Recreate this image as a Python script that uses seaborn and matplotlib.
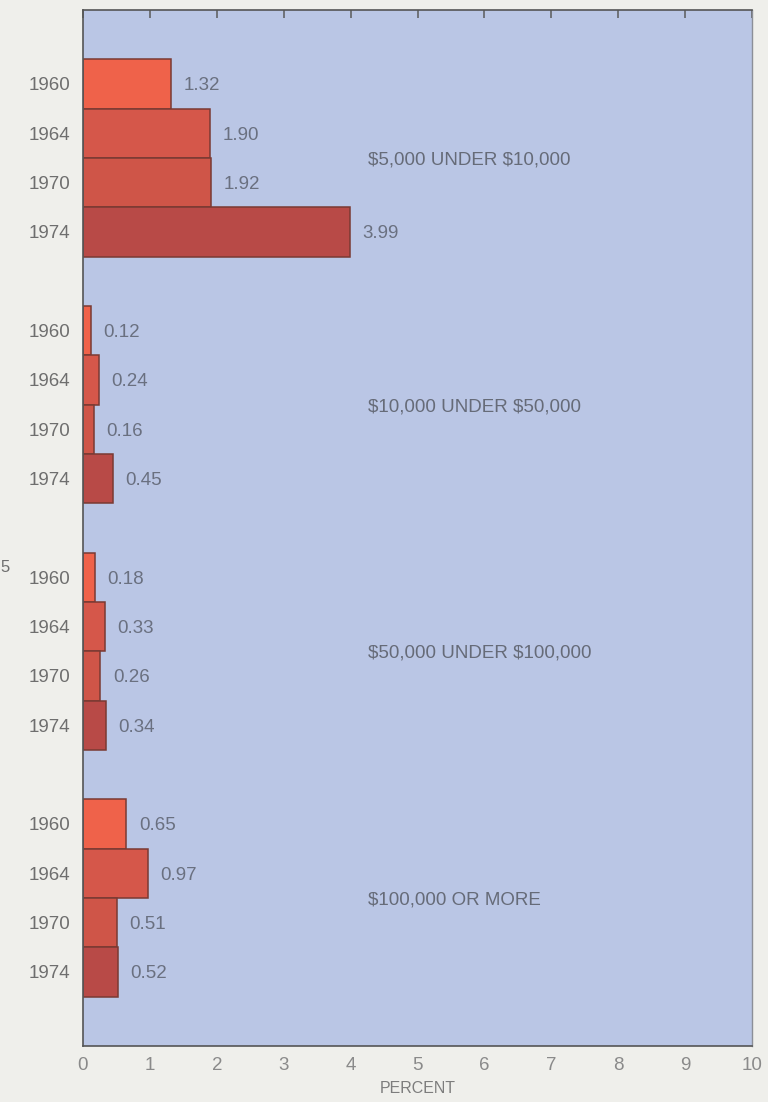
import numpy as np
import pandas as pd
import matplotlib
matplotlib.use("Agg")
import matplotlib.pyplot as plt
import seaborn as sns

# Share of returns by income class, per year
years = ["1960", "1964", "1970", "1974"]
income_classes = ["$5,000 UNDER $10,000", "$10,000 UNDER $50,000",
                  "$50,000 UNDER $100,000", "$100,000 OR MORE"]
pct_5k_10k = [1.32, 1.90, 1.92, 3.99]
pct_10k_50k = [0.12, 0.24, 0.16, 0.45]
pct_50k_100k = [0.18, 0.33, 0.26, 0.34]
pct_100k_up = [0.65, 0.97, 0.51, 0.52]
x_ticks = list(range(0, 11))

year_colors = {"1960": "#ef624a", "1964": "#d5574a", "1970": "#cf5548", "1974": "#b84a47"}

series = [pct_5k_10k, pct_10k_50k, pct_50k_100k, pct_100k_up]
rows = []
for g, (cls, vals) in enumerate(zip(income_classes, series)):
    for i, (yr, v) in enumerate(zip(years, vals)):
        rows.append({"income": cls, "year": yr, "percent": v,
                     "slot": 1.5 + g * 5 + i})
df = pd.DataFrame(rows)

sns.set_theme(style="white")
plt.rcParams["font.family"] = ["Liberation Sans", "DejaVu Sans"]
plt.rcParams["text.parse_math"] = False

fig = plt.figure(figsize=(7.68, 11.02), dpi=100, facecolor="#efefeb")
ax = fig.add_axes([83 / 768, 1 - 1046 / 1102, (752 - 83) / 768, (1046 - 10) / 1102])
ax.set_facecolor("#bac6e5")

sns.barplot(data=df, x="percent", y="slot", hue="year", palette=year_colors,
            saturation=1, orient="h", native_scale=True, dodge=False, width=1.0,
            edgecolor="#7a3a33", linewidth=1.1, legend=False, ax=ax)

ax.set_xlim(0, 10)
ax.set_ylim(21, 0)

# value labels next to each bar
for _, r in df.iterrows():
    ax.annotate(f"{r['percent']:.2f}", (r["percent"], r["slot"]),
                xytext=(9, 0), textcoords="offset points",
                ha="left", va="center_baseline", fontsize=13.5, color="#6a7080")

# income class labels, centred on each group
for g, cls in enumerate(income_classes):
    ax.text(4.26, 3.0 + g * 5, cls, ha="left", va="center_baseline",
            fontsize=13.5, color="#666b78")

# year labels on the left
ax.set_yticks(df["slot"])
ax.set_yticklabels(df["year"], fontsize=13.5, color="#6e6e6e")
for lbl in ax.get_yticklabels():
    lbl.set_va("center_baseline")
ax.tick_params(axis="y", length=0, pad=9)

# bottom scale
ax.set_xticks(x_ticks)
ax.set_xticklabels([str(t) for t in x_ticks], fontsize=13.5, color="#8a8a8a")
ax.tick_params(axis="x", direction="inout", length=14, width=1.1,
               color="#5a5a5a", pad=1)
ax.set_xlabel("PERCENT", fontsize=11.5, color="#7d7d7d", labelpad=5)
ax.set_ylabel("")

# short ticks along the top edge
top = ax.secondary_xaxis("top")
top.set_xticks(x_ticks)
top.set_xticklabels([])
top.tick_params(direction="in", length=6, width=1.1, color="#5a5a5a")
top.spines["top"].set_visible(False)

for side in ["left", "top", "bottom"]:
    ax.spines[side].set_color("#555555")
    ax.spines[side].set_linewidth(1.2)
ax.spines["right"].set_color("#8c8f98")
ax.spines["right"].set_linewidth(1.0)

# fragment of a neighbouring label at the page edge
fig.text(0.0, 1 - 567 / 1102, "5", ha="left", va="center",
         fontsize=12, color="#6e6e6e")

fig.savefig("out.png", dpi=100, facecolor=fig.get_facecolor())
